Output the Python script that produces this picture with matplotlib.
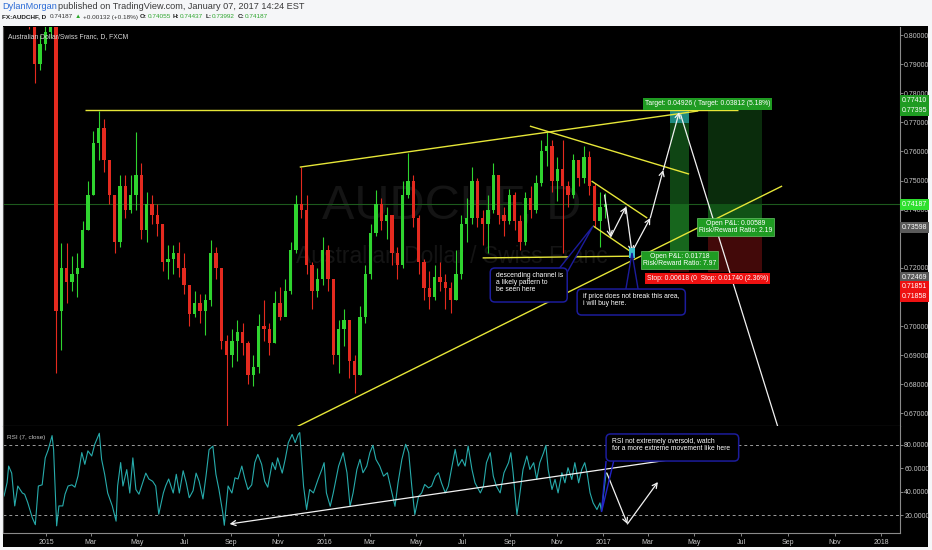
import numpy as np
import matplotlib
matplotlib.use('Agg')
import matplotlib.pyplot as plt
import matplotlib.dates as mdates
from matplotlib.patches import Rectangle, FancyBboxPatch, Polygon
from matplotlib.ticker import FuncFormatter
from matplotlib.transforms import blended_transform_factory, offset_copy

FONT = ['Liberation Sans', 'DejaVu Sans']
NARROW = ['Liberation Sans Narrow', 'Liberation Sans', 'DejaVu Sans']
plt.rcParams['font.family'] = FONT

W, H = 932, 550
BASE = np.datetime64('2015-01-01')

# ---------- weekly candles ----------
week_start = '2014-11-12'
first_open = 0.8250
closes = [0.822, 0.818, 0.815, 0.812, 0.806, 0.790, 0.797, 0.801, 0.805, 0.705,
          0.720, 0.715, 0.718, 0.720, 0.733, 0.745, 0.763, 0.768, 0.757, 0.745,
          0.729, 0.748, 0.740, 0.745, 0.752, 0.733, 0.742, 0.738, 0.735, 0.722,
          0.723, 0.725, 0.720, 0.714, 0.704, 0.708, 0.705, 0.709, 0.725, 0.720,
          0.695, 0.690, 0.695, 0.698, 0.694, 0.683, 0.686, 0.700, 0.699, 0.694,
          0.708, 0.703, 0.712, 0.726, 0.742, 0.740, 0.721, 0.712, 0.716, 0.726,
          0.716, 0.690, 0.699, 0.702, 0.688, 0.683, 0.703, 0.718, 0.732, 0.742,
          0.736, 0.738, 0.725, 0.721, 0.745, 0.750, 0.737, 0.722, 0.713, 0.710,
          0.717, 0.715, 0.713, 0.709, 0.718, 0.735, 0.737, 0.750, 0.737, 0.735,
          0.740, 0.752, 0.738, 0.736, 0.745, 0.736, 0.729, 0.744, 0.740, 0.749,
          0.760, 0.762, 0.750, 0.754, 0.748, 0.745, 0.757, 0.751, 0.758, 0.748,
          0.736, 0.741, 0.74187]
highs = [0.826, 0.824, 0.820, 0.817, 0.813, 0.805, 0.800, 0.806, 0.809, 0.810,
         0.7285, 0.7285, 0.724, 0.725, 0.736, 0.750, 0.767, 0.7738, 0.771, 0.757,
         0.745, 0.752, 0.752, 0.752, 0.7665, 0.756, 0.746, 0.745, 0.742, 0.735,
         0.728, 0.728, 0.729, 0.725, 0.713, 0.712, 0.711, 0.711, 0.7295, 0.727,
         0.720, 0.697, 0.699, 0.702, 0.701, 0.695, 0.690, 0.704, 0.709, 0.701,
         0.712, 0.7135, 0.716, 0.729, 0.745, 0.7548, 0.745, 0.722, 0.720, 0.7305,
         0.728, 0.716, 0.702, 0.706, 0.702, 0.690, 0.707, 0.721, 0.735, 0.7467,
         0.744, 0.741, 0.737, 0.727, 0.750, 0.7595, 0.752, 0.738, 0.723, 0.719,
         0.721, 0.722, 0.718, 0.715, 0.726, 0.738, 0.744, 0.7548, 0.751, 0.740,
         0.745, 0.756, 0.752, 0.741, 0.747, 0.746, 0.738, 0.746, 0.748, 0.752,
         0.764, 0.7665, 0.764, 0.758, 0.764, 0.750, 0.759, 0.757, 0.762, 0.760,
         0.749, 0.746, 0.7456]
lows = [0.817, 0.814, 0.810, 0.808, 0.802, 0.7835, 0.788, 0.795, 0.799, 0.684,
        0.6917, 0.708, 0.712, 0.710, 0.722, 0.733, 0.745, 0.757, 0.753, 0.742,
        0.725, 0.727, 0.737, 0.739, 0.740, 0.730, 0.729, 0.735, 0.731, 0.719,
        0.716, 0.718, 0.717, 0.711, 0.700, 0.703, 0.701, 0.697, 0.707, 0.716,
        0.692, 0.6655, 0.686, 0.688, 0.690, 0.680, 0.6795, 0.684, 0.695, 0.690,
        0.694, 0.702, 0.704, 0.711, 0.725, 0.737, 0.718, 0.706, 0.710, 0.714,
        0.712, 0.687, 0.684, 0.693, 0.682, 0.677, 0.683, 0.701, 0.716, 0.731,
        0.733, 0.730, 0.721, 0.716, 0.720, 0.744, 0.734, 0.718, 0.709, 0.706,
        0.709, 0.712, 0.706, 0.7045, 0.709, 0.716, 0.729, 0.735, 0.734, 0.728,
        0.725, 0.739, 0.735, 0.731, 0.735, 0.733, 0.726, 0.728, 0.737, 0.739,
        0.748, 0.755, 0.746, 0.743, 0.725, 0.741, 0.744, 0.748, 0.749, 0.745,
        0.734, 0.727, 0.737]
last_price = 0.74187

# ---------- RSI(7) readings: days after 2015-01-01, value ----------
rsi_days = [-55, -51, -49, -45, -41, -37, -31, -28, -24, -18, -14, -10, -5, -1, 3, 8, 10, 14, 17, 22,
            25, 29, 34, 38, 42, 47, 51, 55, 60, 64, 70, 73, 77, 81, 87, 92, 94, 98, 101, 106,
            110, 114, 118, 122, 127, 131, 135, 140, 144, 148, 154, 157, 161, 167, 171, 175, 180, 184, 188, 193,
            197, 201, 206, 210, 214, 219, 223, 227, 232, 234, 239, 244, 248, 252, 257, 261, 265, 270, 274, 278,
            283, 287, 291, 297, 301, 304, 310, 314, 318, 323, 327, 331,
            333, 338, 342, 346, 351, 357, 362, 365, 368, 373, 377, 384, 390, 395, 399, 403, 408, 412, 416, 421,
            425, 429, 433, 438, 443, 448, 454, 458, 462, 467, 472, 476, 480, 484, 489, 493, 497, 502, 506, 511,
            515, 519, 524, 528, 532, 537, 541, 546, 550, 554, 559, 563, 570, 574, 578, 583, 587, 591, 596, 601,
            607, 610, 613, 618, 622, 626, 631, 635, 640, 644, 648, 653, 656, 659, 664, 668, 672, 677, 681, 685,
            690, 694, 699, 703, 707, 710, 714, 718, 723, 727, 729, 732, 735]
rsi_vals = [36.5, 48, 62, 56, 28, 45, 39, 38, 31, 18, 12, 45, 46, 69, 76, 88, 76, 11, 28, 28,
            38, 45, 46, 44, 53.5, 73.5, 63.5, 75, 70.6, 80.6, 90, 67.8, 55, 39, 28, 15, 45, 65, 45, 59,
            39, 69, 42, 38, 48, 56, 51, 49, 45, 21, 39, 45, 51, 39, 55, 39, 58, 48, 35, 41,
            56, 49, 34, 53.5, 76, 79, 55, 42, 22, 11.5, 45, 39, 52, 51, 62, 51, 42, 46, 65, 72,
            63.5, 49, 44, 65, 59, 69, 56, 68, 82, 89, 82, 89,
            90.6, 44.9, 24.9, 42, 39.1, 50.6, 59.1, 64.9, 39.1, 27.7, 39.1, 62, 73.4, 56.3, 27.7, 39.1, 59.1, 67.7, 56.3, 62,
            73.4, 79.7, 67.7, 62, 53.4, 56.3, 39.1, 27.7, 47.7, 67.7, 80.6, 73.4, 44.9, 20.6, 36.3, 39.1, 46.3, 43.4, 44.9, 53.4,
            56.3, 47.7, 39.1, 44.9, 59.1, 76.3, 62, 67.7, 62, 79.1, 59.1, 47.7, 39.1, 44.9, 64.9, 73.4, 53.4, 44.9, 39.1, 56.3,
            64.9, 73.4, 56.3, 20.6, 39.1, 59.1, 70.6, 59.1, 64.9, 50.6, 64.9, 73.4, 79.7, 59.1, 42, 50.6, 39.1, 56.3, 47.7, 60.6,
            50.6, 64.9, 47.7, 59.1, 64.9, 56.3, 39.1, 30.6, 24.9, 30.6, 23.4, 40, 56]

price_ticks = [0.80, 0.79, 0.78, 0.77, 0.76, 0.75, 0.74, 0.72, 0.70, 0.69, 0.68, 0.67]
rsi_ticks = [20, 40, 60, 80]

# right-hand price tags: text, value, colour, stacking shift in px
tags = [('0.77410', 0.77410, '#1f9c22', -9.5),
        ('0.77395', 0.77395, '#1f9c22', 0.0),
        ('0.74187', 0.74187, '#2fe02f', 0.0),
        ('0.73598', 0.73598, '#5a5a5a', 6.5),
        ('0.72469', 0.72469, '#5a5a5a', 23.5),
        ('0.71851', 0.71851, '#ee1111', 14.5),
        ('0.71858', 0.71858, '#ee1111', 24.5)]

# two long position tools
pos_start = ['2017-03-30', '2017-05-19']
pos_end = ['2017-04-24', '2017-07-29']
pos_entry = [0.72469, 0.73598]
pos_target = [0.77395, 0.77410]
pos_stop = [0.71851, 0.71858]

# yellow trend lines
yellow_lines = [
    (('2015-02-21', 0.7741), ('2017-06-27', 0.7741)),
    (('2015-11-30', 0.7546), ('2017-05-06', 0.7739)),
    (('2016-09-27', 0.7687), ('2017-04-24', 0.7522)),
    (('2016-12-17', 0.7498), ('2017-02-28', 0.7371)),
    (('2016-12-19', 0.7344), ('2017-02-05', 0.7258)),
    (('2016-07-27', 0.7234), ('2017-02-09', 0.7240)),
    (('2015-10-22', 0.6608), ('2017-08-24', 0.7481)),
]

# projected path (white arrows)
path_dates = ['2017-01-03', '2017-01-11', '2017-01-31', '2017-02-08', '2017-03-04', '2017-03-21', '2017-04-11']
path_prices = [0.7450, 0.7306, 0.7409, 0.7254, 0.7371, 0.7536, 0.7735]
drop_line = (('2017-04-13', 0.7725), ('2017-08-20', 0.6640))

target_box = (('2017-03-30', '2017-04-24'), (0.7698, 0.7741))
buy_box = (('2017-02-04', '2017-02-12'), (0.7234, 0.7268))

callout_texts = ['descending channel is\na likely pattern to\nbe seen here',
                 'if price does not break this area,\ni will buy here.']
callout_boxes = [('2016-08-06', '2016-11-15', 0.70825, 0.71993),
                 ('2016-11-28', '2017-04-19', 0.70378, 0.71271)]
callout_tails = [[('2016-11-05', 0.71993), ('2016-12-19', 0.73436), ('2016-11-15', 0.71850)],
                 [('2017-01-31', 0.71271), ('2017-02-08', 0.72509), ('2017-02-16', 0.71271)]]

rsi_text = 'RSI not extremely oversold, watch\nfor a more extreme movement like here'
rsi_box = ('2017-01-05', '2017-06-28', 66.3, 89.4)
rsi_tail = [('2017-01-05', 66.3), ('2016-12-30', 22.8), ('2017-01-15', 66.3)]
rsi_trend = (('2017-05-30', 73.2), ('2015-08-30', 12.6))
rsi_path_dates = ['2017-01-06', '2017-02-02', '2017-03-14']
rsi_path_vals = [56.1, 12.6, 48.4]

UP = '#2fd42f'
DOWN = '#e42a1f'
YEL = '#e6e638'
BLUE = '#1c1c9c'
RSI_COL = '#27abab'


def dnum(s):
    return mdates.date2num(np.datetime64(s))


def day_num(d):
    return mdates.date2num(BASE) + d


def frame(x0, y0, x1, y1):
    return [x0 / W, 1 - y1 / H, (x1 - x0) / W, (y1 - y0) / H]


fig = plt.figure(figsize=(W / 100, H / 100), dpi=100, facecolor='#f5f6f8')

bg = fig.add_axes(frame(3, 26, 928, 547), zorder=0)
bg.set_facecolor('black')
bg.set_xticks([])
bg.set_yticks([])
for sp in bg.spines.values():
    sp.set_visible(False)

axp = fig.add_axes(frame(3, 27, 900, 426), zorder=1)
axr = fig.add_axes(frame(3, 426, 900, 533), zorder=1)
for ax in (axp, axr):
    ax.set_facecolor('black')
    ax.set_xlim(day_num(-56.4), day_num(1120.7))
    ax.spines['top'].set_visible(False)
    ax.spines['left'].set_color('#555555')
    for side in ('right', 'bottom'):
        ax.spines[side].set_color('#8a8a8a')
        ax.spines[side].set_linewidth(0.8)
axp.set_ylim(0.66564, 0.80275)
axr.set_ylim(4.9, 96.2)

# ---------- price pane ----------
axp.text(0.5, 0.551, 'AUDCHF, D', transform=axp.transAxes, ha='center', va='center',
         fontsize=35, color='#141414', zorder=0.5)
axp.text(0.5, 0.424, 'Australian Dollar / Swiss Franc', transform=axp.transAxes,
         ha='center', va='center', fontsize=16.5, color='#141414', zorder=0.5)
axp.text(0.0056, 0.977, 'Australian Dollar/Swiss Franc, D, FXCM', transform=axp.transAxes,
         ha='left', va='center', fontsize=4.9, color='#d8d8d8')

axp.axhline(last_price, color='#1d5a1d', lw=0.8, zorder=1.5)

week_x = mdates.date2num(np.datetime64(week_start) + np.arange(len(closes)) * np.timedelta64(7, 'D'))
c = np.array(closes)
o = np.r_[first_open, c[:-1]]
cols = np.where(c >= o, UP, DOWN)
axp.vlines(week_x, lows, highs, colors=cols, lw=0.8, zorder=2)
axp.bar(week_x, np.maximum(np.abs(c - o), 0.0005), bottom=np.minimum(o, c), width=4.4,
        color=cols, lw=0, zorder=2)

# position tools
tgt_fill = ['#0f4514', '#0a2c0c']
pnl_fill = ['#17661d', '#115316']
for i in range(2):
    x0, x1 = dnum(pos_start[i]), dnum(pos_end[i])
    e, t, s = pos_entry[i], pos_target[i], pos_stop[i]
    axp.add_patch(Rectangle((x0, e), x1 - x0, t - e, fc=tgt_fill[i], ec='none', zorder=1.6))
    axp.add_patch(Rectangle((x0, e), x1 - x0, last_price - e, fc=pnl_fill[i], ec='none', zorder=1.7))
    axp.add_patch(Rectangle((x0, s), x1 - x0, e - s, fc='#420909', ec='none', zorder=1.6))

(tb0, tb1), (tp0, tp1) = target_box
axp.add_patch(Rectangle((dnum(tb0), tp0), dnum(tb1) - dnum(tb0), tp1 - tp0, fc='#1f8a80', ec='none', zorder=3))
(bb0, bb1), (bp0, bp1) = buy_box
axp.add_patch(Rectangle((dnum(bb0), bp0), dnum(bb1) - dnum(bb0), bp1 - bp0, fc='#3cc0d0', ec='none', zorder=5.5))

for (d0, p0), (d1, p1) in yellow_lines:
    axp.plot([dnum(d0), dnum(d1)], [p0, p1], color=YEL, lw=1.0, zorder=4, solid_capstyle='butt')

arrow_kw = dict(arrowstyle='->,head_length=0.35,head_width=0.18', color='#f2f2f2', lw=0.9,
                shrinkA=0, shrinkB=0)
for k in range(len(path_dates) - 1):
    axp.annotate('', xy=(dnum(path_dates[k + 1]), path_prices[k + 1]),
                 xytext=(dnum(path_dates[k]), path_prices[k]), arrowprops=arrow_kw, zorder=5)
(dd0, dp0), (dd1, dp1) = drop_line
axp.plot([dnum(dd0), dnum(dd1)], [dp0, dp1], color='#f2f2f2', lw=0.9, zorder=5)

# callouts in the price pane
asp_p = (1 / 2910) / (1 / 0.762)
for txt, (b0, b1, y0, y1), tail in zip(callout_texts, callout_boxes, callout_tails):
    axp.add_patch(Polygon([(dnum(d), v) for d, v in tail], closed=False, fc='black', ec=BLUE,
                          lw=1.0, zorder=6))
    axp.add_patch(FancyBboxPatch((dnum(b0), y0), dnum(b1) - dnum(b0), y1 - y0,
                                 boxstyle='round,pad=0,rounding_size=6', mutation_aspect=asp_p,
                                 fc='black', ec=BLUE, lw=1.1, zorder=6))
    tr = offset_copy(axp.transData, fig=fig, x=4.3, y=-3.2, units='points')
    axp.text(dnum(b0), y1, txt, transform=tr, ha='left', va='top', fontsize=4.9,
             color='white', linespacing=1.0, zorder=7)

# position tool labels: the two tools' target and stop labels overlap, only the
# start of the first one stays visible, so both are written as one strip
lab_kw = dict(ha='center', va='center', fontsize=4.9, color='white', zorder=9, linespacing=1.0)
xcs = [(dnum(a) + dnum(b)) / 2 for a, b in zip(pos_start, pos_end)]
tgt_txt = [f'Target: {t - e:.5f} ({(t - e) / e * 100:.2f}%)' for e, t in zip(pos_entry, pos_target)]
stp_txt = [f'Stop: {e - s:.5f} ({(e - s) / e * 100:.2f}%)' for e, s in zip(pos_entry, pos_stop)]
x_mid = (xcs[0] + xcs[1]) / 2
up_tr = offset_copy(axp.transData, fig=fig, x=0, y=4.6, units='points')
axp.text(x_mid, pos_target[1], tgt_txt[0][:17] + ' ' + tgt_txt[1], transform=up_tr,
         bbox=dict(boxstyle='square,pad=0.3', fc='#1f9b22', ec='none'), **lab_kw)
dn_tr = offset_copy(axp.transData, fig=fig, x=0, y=-4.7, units='points')
axp.text(x_mid, pos_stop[0], stp_txt[0][:16] + '  ' + stp_txt[1], transform=dn_tr,
         bbox=dict(boxstyle='square,pad=0.3', fc='#ee1111', ec='none'), **lab_kw)
for i in range(2):
    e, t, s = pos_entry[i], pos_target[i], pos_stop[i]
    pnl_tr = offset_copy(axp.transData, fig=fig, x=0, y=-4.0, units='points')
    axp.text(xcs[i], e, f'Open P&L: {last_price - e:.5f}\nRisk/Reward Ratio: {(t - e) / (e - s):.2f}',
             transform=pnl_tr, bbox=dict(boxstyle='square,pad=0.3', fc='#1f9b22', ec='#66c466', lw=0.5),
             **lab_kw)

# price axis
axp.yaxis.tick_right()
axp.set_yticks(price_ticks)
axp.yaxis.set_major_formatter(FuncFormatter(lambda v, p: f'{v:.5f}'))
axp.tick_params(axis='y', colors='#9a9a9a', labelcolor='#c6c6c6', labelsize=5, length=2, pad=1, width=0.6)
axp.tick_params(axis='x', bottom=False, labelbottom=False)
for lab in axp.get_yticklabels():
    lab.set_family(NARROW)

tag_base = blended_transform_factory(axp.transAxes, axp.transData)
for txt, val, col, shift in tags:
    tr = offset_copy(tag_base, fig=fig, x=0, y=-shift * 0.72, units='points')
    axp.text(1.002, val, txt, transform=tr, ha='left', va='center', fontsize=5, family=NARROW,
             color='white', clip_on=False, zorder=10,
             bbox=dict(boxstyle='square,pad=0.28', fc=col, ec='none'))

# ---------- RSI pane ----------
axr.text(0.0045, 0.897, 'RSI (7, close)', transform=axr.transAxes, ha='left', va='center',
         fontsize=4.6, color='#c4c4c4')
for lvl in (80, 20):
    axr.axhline(lvl, color='#9c9c9c', lw=0.7, ls=(0, (3, 3)), zorder=1)
axr.plot(day_num(np.array(rsi_days)), rsi_vals, color=RSI_COL, lw=0.8, zorder=2)

(r0d, r0v), (r1d, r1v) = rsi_trend
axr.annotate('', xy=(dnum(r1d), r1v), xytext=(dnum(r0d), r0v), arrowprops=arrow_kw, zorder=5)
for k in range(len(rsi_path_dates) - 1):
    axr.annotate('', xy=(dnum(rsi_path_dates[k + 1]), rsi_path_vals[k + 1]),
                 xytext=(dnum(rsi_path_dates[k]), rsi_path_vals[k]), arrowprops=arrow_kw, zorder=5)

asp_r = (1 / 1.1717) / (1 / 0.762)
axr.add_patch(Polygon([(dnum(d), v) for d, v in rsi_tail], closed=False, fc='none', ec='#2323c8',
                      lw=1.0, zorder=6))
rb0, rb1, ry0, ry1 = rsi_box
axr.add_patch(FancyBboxPatch((dnum(rb0), ry0), dnum(rb1) - dnum(rb0), ry1 - ry0,
                             boxstyle='round,pad=0,rounding_size=6', mutation_aspect=asp_r,
                             fc='black', ec=BLUE, lw=1.1, zorder=6))
tr = offset_copy(axr.transData, fig=fig, x=4.3, y=-3.0, units='points')
axr.text(dnum(rb0), ry1, rsi_text, transform=tr, ha='left', va='top', fontsize=4.9,
         color='white', linespacing=1.0, zorder=7)

axr.yaxis.tick_right()
axr.set_yticks(rsi_ticks)
axr.yaxis.set_major_formatter(FuncFormatter(lambda v, p: f'{v:.4f}'))
axr.tick_params(axis='y', colors='#9a9a9a', labelcolor='#c6c6c6', labelsize=5, length=2, pad=1, width=0.6)
for lab in axr.get_yticklabels():
    lab.set_family(NARROW)

axr.xaxis.set_major_locator(mdates.MonthLocator(bymonth=(1, 3, 5, 7, 9, 11)))
axr.xaxis.set_major_formatter(FuncFormatter(
    lambda v, p: str(mdates.num2date(v).year) if mdates.num2date(v).month == 1
    else mdates.num2date(v).strftime('%b')))
axr.tick_params(axis='x', colors='#9a9a9a', labelcolor='#c8c8c8', labelsize=5, length=2, pad=2, width=0.6)

# ---------- header ----------
renderer = fig.canvas.get_renderer()


def header_line(x_px, y_px, pieces, target_w, family, size0=7.0):
    widths = []
    for s, col, wt, gap in pieces:
        t = fig.text(0, 0, s, fontsize=size0, fontweight=wt, family=family)
        widths.append(t.get_window_extent(renderer).width)
        t.remove()
    gaps = sum(p[3] for p in pieces[:-1])
    scale = (target_w - gaps) / sum(widths)
    x = x_px
    for (s, col, wt, gap), w in zip(pieces, widths):
        fig.text(x / W, 1 - y_px / H, s, fontsize=size0 * scale, fontweight=wt, color=col,
                 family=family, ha='left', va='center')
        x += w * scale + gap


header_line(2, 6.5, [('DylanMorgan', '#2b6bd6', 'normal', 2.5),
                     ('published on TradingView.com, January 07, 2017 14:24 EST', '#3a3a3a', 'normal', 0)],
            300, FONT)
green_txt = '#2ea52e'
header_line(2, 17, [('FX:AUDCHF, D', '#222222', 'bold', 3.0),
                    ('0.74187', '#333333', 'normal', 2.0),
                    ('\u25b2', '#2aa82a', 'normal', 1.5),
                    ('+0.00132 (+0.18%)', '#333333', 'normal', 2.5),
                    ('O:', '#222222', 'bold', 0.5),
                    ('0.74055', green_txt, 'normal', 2.5),
                    ('H:', '#222222', 'bold', 0.5),
                    ('0.74437', green_txt, 'normal', 2.5),
                    ('L:', '#222222', 'bold', 0.5),
                    ('0.73992', green_txt, 'normal', 2.5),
                    ('C:', '#222222', 'bold', 0.5),
                    ('0.74187', green_txt, 'normal', 0)],
            266, NARROW)

fig.savefig('out.png', dpi=100, facecolor=fig.get_facecolor())
